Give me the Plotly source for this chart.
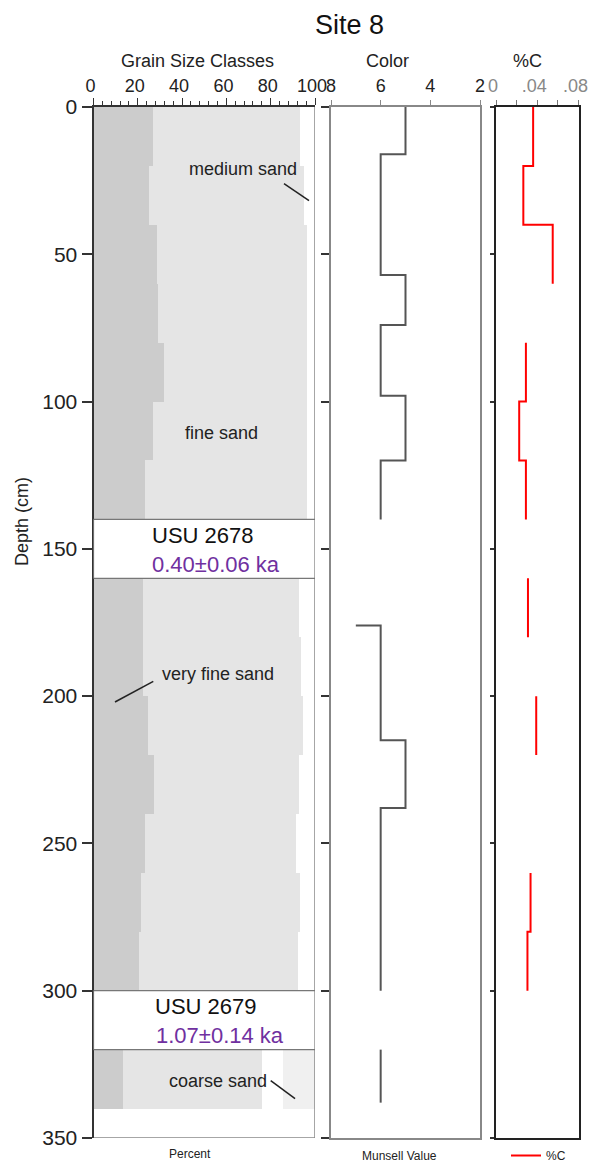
import plotly.graph_objects as go

W, H = 589, 1162

# ---- grain size classes (percent per sampled layer, depth in cm) ----
layer_top = [0, 20, 40, 60, 80, 100, 120, 160, 180, 200, 220, 240, 260, 280, 320]
layer_bottom = [20, 40, 60, 80, 100, 120, 140, 180, 200, 220, 240, 260, 280, 300, 340]
very_fine_sand = [26.5, 25, 28.5, 29, 31.5, 26.5, 23, 22, 22, 24.5, 27, 23, 21, 20.5, 13]
fine_sand = [66.5, 70, 67.5, 67, 64.5, 69.5, 73, 70.5, 71.5, 70, 65.5, 68, 72, 71.5, 63]
medium_sand = [7, 5, 4, 4, 4, 4, 4, 7.5, 6.5, 5.5, 7.5, 9, 7, 8, 9.5]
coarse_sand = [0, 0, 0, 0, 0, 0, 0, 0, 0, 0, 0, 0, 0, 0, 14.5]

# ---- Munsell value (colour) ----
munsell_top = [0, 16, 57, 74, 98, 120, 176, 176, 215, 238, 320]
munsell_bottom = [16, 57, 74, 98, 120, 140, 176, 215, 238, 300, 338]
munsell_value = [5, 6, 5, 6, 5, 6, 7, 6, 5, 6, 6]

# ---- organic carbon (%C) ----
carbon_top = [0, 20, 40, 80, 100, 120, 160, 200, 260, 280]
carbon_bottom = [20, 40, 60, 100, 120, 140, 180, 220, 280, 300]
carbon_pct = [0.036, 0.0265, 0.055, 0.029, 0.0225, 0.029, 0.031, 0.039, 0.0335, 0.0305]

# ---- OSL samples ----
osl_top = [140, 300]
osl_bottom = [160, 320]
osl_lab = ["USU 2678", "USU 2679"]
osl_age = ["0.40±0.06 ka", "1.07±0.14 ka"]

depth_ticks = [0, 50, 100, 150, 200, 250, 300, 350]

FONT = "Liberation Sans, Arial, sans-serif"


def px_x(p):
    return p / W


def px_y(p):
    return 1 - p / H


def step_path(tops, bottoms, vals):
    """Step line through layered values; breaks where layers are not contiguous."""
    xs, ys = [], []
    for i, (t, b, v) in enumerate(zip(tops, bottoms, vals)):
        if i > 0 and t != bottoms[i - 1]:
            xs.append(None)
            ys.append(None)
        xs += [v, v]
        ys += [t, b]
    return xs, ys


mid = [(t + b) / 2 for t, b in zip(layer_top, layer_bottom)]
thick = [b - t for t, b in zip(layer_top, layer_bottom)]

fig = go.Figure()

classes = [
    ("very fine sand", very_fine_sand, "#cccccc"),
    ("fine sand", fine_sand, "#e5e5e5"),
    ("medium sand", medium_sand, "#ffffff"),
    ("coarse sand", coarse_sand, "#f0f0f0"),
]
for name, vals, col in classes:
    fig.add_trace(go.Bar(
        name=name, orientation="h", y=mid, x=vals, width=thick,
        marker=dict(color=col, line=dict(width=0)),
        xaxis="x", yaxis="y", showlegend=False, hoverinfo="skip",
    ))

mx, my = step_path(munsell_top, munsell_bottom, munsell_value)
fig.add_trace(go.Scatter(
    x=mx, y=my, mode="lines", line=dict(color="#555555", width=2),
    xaxis="x2", yaxis="y2", showlegend=False, connectgaps=False,
))

cx, cy = step_path(carbon_top, carbon_bottom, carbon_pct)
fig.add_trace(go.Scatter(
    x=cx, y=cy, mode="lines", name="%C", line=dict(color="#ff0000", width=2),
    xaxis="x3", yaxis="y3", showlegend=True, connectgaps=False,
))

ydom = [px_y(1138), px_y(107)]
yax = dict(range=[350, 0], domain=ydom, tickvals=depth_ticks, ticks="outside",
           showgrid=False, zeroline=False, automargin=False)

shapes = []
# right and bottom frame of the grain panel
shapes.append(dict(type="line", xref="x", yref="y", x0=100, x1=100, y0=0, y1=350,
                   line=dict(color="#888888", width=1.5)))
shapes.append(dict(type="line", xref="x", yref="y", x0=0, x1=100, y0=350, y1=350,
                   line=dict(color="#888888", width=1.5)))
# OSL sample boxes
for t, b in zip(osl_top, osl_bottom):
    shapes.append(dict(type="rect", xref="x", yref="y", x0=0, x1=100, y0=t, y1=b,
                       fillcolor="white", line=dict(color="#777777", width=1.2)))
# leader lines for class labels
leaders = [(86, 26, 97.3, 31.8), (27, 195, 9.7, 202), (80, 330.5, 91, 336.6)]
for x0, y0, x1, y1 in leaders:
    shapes.append(dict(type="line", xref="x", yref="y", x0=x0, y0=y0, x1=x1, y1=y1,
                       line=dict(color="#222222", width=1.5)))


def label(text, x, y, size, color="#222222", xref="paper", yref="paper", **kw):
    return dict(text=text, x=x, y=y, xref=xref, yref=yref, showarrow=False,
                xanchor="center", yanchor="middle",
                font=dict(size=size, color=color), **kw)


ann = []
ann.append(label("Site 8", px_x(350), px_y(25), 27, "#111111"))
for txt, xc in [("Grain Size Classes", 197), ("Color", 387), ("%C", 527)]:
    ann.append(label(txt, px_x(xc), px_y(61), 18))
ann.append(label("Depth (cm)", px_x(22), px_y(522), 18, textangle=-90))
ann.append(label("Percent", px_x(190), px_y(1154), 12))
ann.append(label("Munsell Value", px_x(399), px_y(1156), 12))
class_labels = [("medium sand", 67.5, 21), ("fine sand", 57.8, 110.5),
                ("very fine sand", 56.2, 192.5), ("coarse sand", 56, 330.5)]
for txt, xv, yv in class_labels:
    ann.append(label(txt, xv, yv, 18, xref="x", yref="y"))
for t, lab, age, xl, xa in zip(osl_top, osl_lab, osl_age, [49.5, 51], [55.5, 57]):
    ann.append(label(lab, xl, t + 5.5, 22, "#111111", xref="x", yref="y"))
    ann.append(label(age, xa, t + 15.3, 22, "#7030a0", xref="x", yref="y"))

fig.update_layout(
    width=W, height=H, margin=dict(l=0, r=0, t=0, b=0, autoexpand=False),
    paper_bgcolor="white", plot_bgcolor="white",
    font=dict(family=FONT, color="#222222"),
    barmode="stack", bargap=0,
    shapes=shapes, annotations=ann,
    xaxis=dict(domain=[px_x(93.5), px_x(315)], range=[0, 100], side="top", anchor="y",
               tickvals=[0, 20, 40, 60, 80, 100], ticks="outside", ticklen=7,
               tickcolor="#333333", showline=True, linecolor="#333333", linewidth=1.5,
               minor=dict(dtick=4, ticks="outside", ticklen=4, tickcolor="#333333"),
               tickfont=dict(size=18), ticklabelstandoff=-1, ticklabelshift=-3,
               ticklabeloverflow="allow",
               showgrid=False, zeroline=False, automargin=False),
    yaxis=dict(**yax, anchor="x", showline=True, linecolor="#333333", linewidth=2,
               ticklen=10, tickcolor="#333333", tickwidth=1.5, tickfont=dict(size=21)),
    xaxis2=dict(domain=[px_x(331), px_x(480)], range=[8, 2], side="top", anchor="y2",
                tickvals=[8, 6, 4, 2], ticks="outside", ticklen=5, tickcolor="#888888",
                showline=True, mirror=True, linecolor="#888888", linewidth=2,
                tickfont=dict(size=18), ticklabelstandoff=1, ticklabeloverflow="allow",
                showgrid=False, zeroline=False, automargin=False),
    yaxis2=dict(**yax, anchor="x2", matches="y", showticklabels=False, showline=True,
                mirror=True, linecolor="#888888", linewidth=2, ticklen=8,
                tickcolor="#333333", tickwidth=1.5),
    xaxis3=dict(domain=[px_x(496), px_x(578.5)], range=[0, 0.08], side="top",
                anchor="y3",
                tickvals=[0, 0.02, 0.04, 0.06, 0.08], ticktext=["0", "", ".04", "", ".08"],
                ticks="outside", ticklen=5, tickcolor="#777777",
                showline=True, mirror=True, linecolor="#222222", linewidth=2,
                tickfont=dict(size=18, color="#888888"), ticklabelstandoff=1,
                ticklabelshift=-3, ticklabeloverflow="allow",
                showgrid=False, zeroline=False, automargin=False),
    yaxis3=dict(**yax, anchor="x3", matches="y", showticklabels=False, showline=True,
                mirror=True, linecolor="#222222", linewidth=2, ticklen=4,
                tickcolor="#333333", tickwidth=1.5),
    legend=dict(x=px_x(506), y=px_y(1141), xanchor="left", yanchor="top",
                font=dict(size=12, color="#222222"), bgcolor="rgba(0,0,0,0)",
                itemwidth=30, tracegroupgap=0),
)

fig.write_html("out.html")
